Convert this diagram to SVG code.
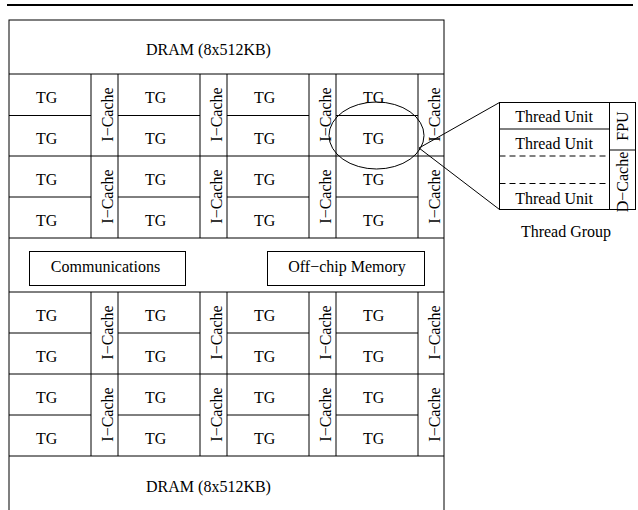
<svg xmlns="http://www.w3.org/2000/svg" width="638" height="510" viewBox="0 0 638 510">
<style>
.t{font-family:"Liberation Serif","Times New Roman",serif;font-size:16px;fill:#000;text-anchor:middle}
.b{fill:none;stroke:#000;stroke-width:1}
.d{fill:none;stroke:#000;stroke-width:1;stroke-dasharray:6 4}
</style>
<rect width="638" height="510" fill="#fff"/>
<line x1="7" y1="5" x2="633" y2="5" stroke="#000" stroke-width="2"/>
<g id="chip">
<rect class="b" x="9" y="20" width="435" height="492"/>
<line class="b" x1="9" y1="74" x2="444" y2="74"/>
<line class="b" x1="9" y1="238" x2="444" y2="238"/>
<line class="b" x1="9" y1="292" x2="444" y2="292"/>
<line class="b" x1="9" y1="456" x2="444" y2="456"/>
</g>
<g id="dram-top"><text class="t" x="208.5" y="55">DRAM (8x512KB)</text></g>
<g id="dram-bottom"><text class="t" x="208.5" y="492">DRAM (8x512KB)</text></g>
<g id="tg-grid" class="b">
<!-- vertical column lines, top block -->
<path class="b" d="M91,74V238M118,74V238M200,74V238M227,74V238M309,74V238M336,74V238M418,74V238"/>
<path class="b" d="M91,292V456M118,292V456M200,292V456M227,292V456M309,292V456M336,292V456M418,292V456"/>
<!-- row separators -->
<path class="b" d="M9,115.5H91M118,115.5H200M227,115.5H309M336,115.5H418"/>
<path class="b" d="M9,197H91M118,197H200M227,197H309M336,197H418"/>
<path class="b" d="M9,156H444"/>
<path class="b" d="M9,333H91M118,333H200M227,333H309M336,333H418"/>
<path class="b" d="M9,415H91M118,415H200M227,415H309M336,415H418"/>
<path class="b" d="M9,374H444"/>
</g>
<g id="tg-labels">
<text class="t" x="46.7" y="102.5">TG</text><text class="t" x="155.7" y="102.5">TG</text><text class="t" x="264.7" y="102.5">TG</text><text class="t" x="373.7" y="102.5">TG</text>
<text class="t" x="46.7" y="143.5">TG</text><text class="t" x="155.7" y="143.5">TG</text><text class="t" x="264.7" y="143.5">TG</text><text class="t" x="373.7" y="143.5">TG</text>
<text class="t" x="46.7" y="184.5">TG</text><text class="t" x="155.7" y="184.5">TG</text><text class="t" x="264.7" y="184.5">TG</text><text class="t" x="373.7" y="184.5">TG</text>
<text class="t" x="46.7" y="225.5">TG</text><text class="t" x="155.7" y="225.5">TG</text><text class="t" x="264.7" y="225.5">TG</text><text class="t" x="373.7" y="225.5">TG</text>
<text class="t" x="46.7" y="320.5">TG</text><text class="t" x="155.7" y="320.5">TG</text><text class="t" x="264.7" y="320.5">TG</text><text class="t" x="373.7" y="320.5">TG</text>
<text class="t" x="46.7" y="361.5">TG</text><text class="t" x="155.7" y="361.5">TG</text><text class="t" x="264.7" y="361.5">TG</text><text class="t" x="373.7" y="361.5">TG</text>
<text class="t" x="46.7" y="402.5">TG</text><text class="t" x="155.7" y="402.5">TG</text><text class="t" x="264.7" y="402.5">TG</text><text class="t" x="373.7" y="402.5">TG</text>
<text class="t" x="46.7" y="443.5">TG</text><text class="t" x="155.7" y="443.5">TG</text><text class="t" x="264.7" y="443.5">TG</text><text class="t" x="373.7" y="443.5">TG</text>
</g>
<g id="icache-labels">
<text class="t" transform="translate(112.5,114.5) rotate(-90)">I−Cache</text>
<text class="t" transform="translate(221.5,114.5) rotate(-90)">I−Cache</text>
<text class="t" transform="translate(330.5,114.5) rotate(-90)">I−Cache</text>
<text class="t" transform="translate(439.5,114.5) rotate(-90)">I−Cache</text>
<text class="t" transform="translate(112.5,196.5) rotate(-90)">I−Cache</text>
<text class="t" transform="translate(221.5,196.5) rotate(-90)">I−Cache</text>
<text class="t" transform="translate(330.5,196.5) rotate(-90)">I−Cache</text>
<text class="t" transform="translate(439.5,196.5) rotate(-90)">I−Cache</text>
<text class="t" transform="translate(112.5,332.5) rotate(-90)">I−Cache</text>
<text class="t" transform="translate(221.5,332.5) rotate(-90)">I−Cache</text>
<text class="t" transform="translate(330.5,332.5) rotate(-90)">I−Cache</text>
<text class="t" transform="translate(439.5,332.5) rotate(-90)">I−Cache</text>
<text class="t" transform="translate(112.5,414.5) rotate(-90)">I−Cache</text>
<text class="t" transform="translate(221.5,414.5) rotate(-90)">I−Cache</text>
<text class="t" transform="translate(330.5,414.5) rotate(-90)">I−Cache</text>
<text class="t" transform="translate(439.5,414.5) rotate(-90)">I−Cache</text>
</g>
<g id="communications">
<rect class="b" x="29.5" y="251.5" width="156" height="34"/>
<text class="t" x="105.5" y="272">Communications</text>
</g>
<g id="offchip-memory">
<rect class="b" x="267.5" y="251.5" width="157" height="34"/>
<text class="t" x="347" y="272">Off−chip Memory</text>
</g>
<g id="zoom-ellipse">
<ellipse class="b" cx="376.5" cy="135.5" rx="47.5" ry="33.5"/>
</g>
<g id="connectors">
<line class="b" x1="419" y1="148" x2="499.5" y2="102.5"/>
<line class="b" x1="419" y1="148" x2="499.5" y2="209.5"/>
</g>
<g id="thread-group">
<rect class="b" x="499.5" y="102.5" width="136" height="107"/>
<line class="b" x1="609.5" y1="102.5" x2="609.5" y2="209.5"/>
<line class="b" x1="499.5" y1="129" x2="609.5" y2="129"/>
<line class="d" x1="499.5" y1="156" x2="609.5" y2="156"/>
<line class="d" x1="499.5" y1="183.5" x2="609.5" y2="183.5"/>
<line class="b" x1="609.5" y1="150" x2="635.5" y2="150"/>
<text class="t" x="554" y="122">Thread Unit</text>
<text class="t" x="554" y="148.5">Thread Unit</text>
<text class="t" x="554" y="203.5">Thread Unit</text>
<text class="t" transform="translate(628,126) rotate(-90)">FPU</text>
<text class="t" transform="translate(628,182) rotate(-90)">D−Cache</text>
<text class="t" x="566" y="237">Thread Group</text>
</g>
</svg>
